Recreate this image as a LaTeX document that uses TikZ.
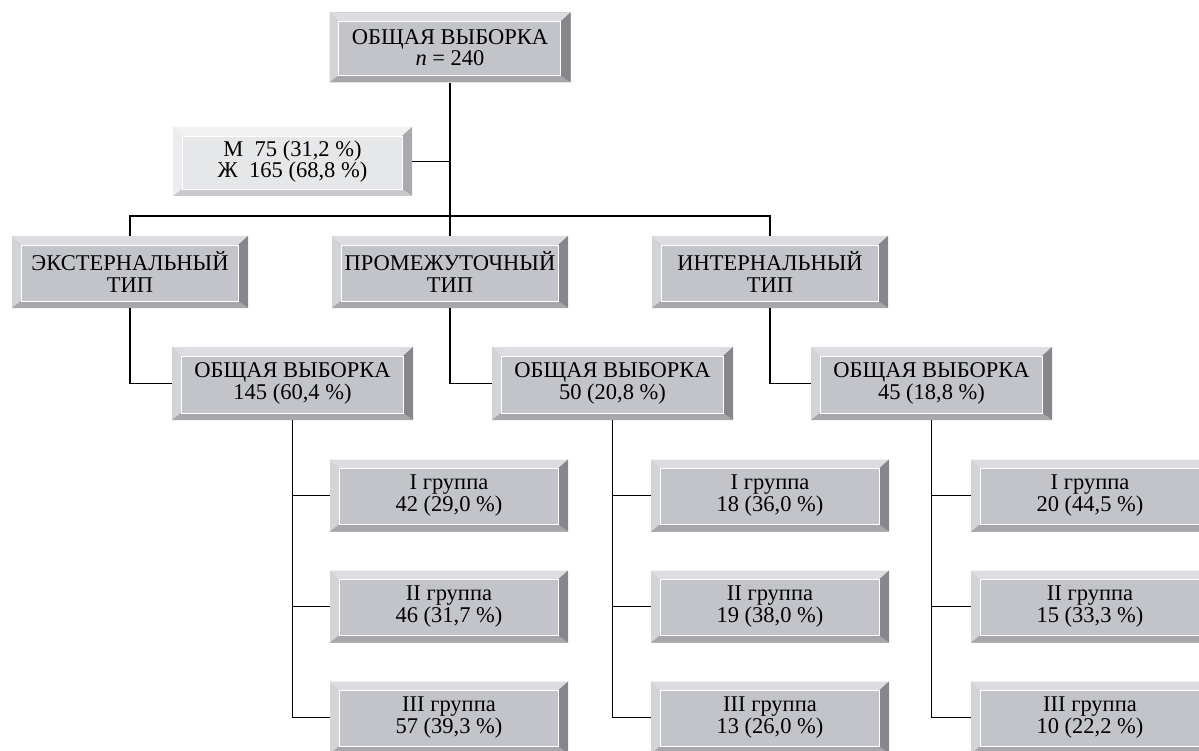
\documentclass[tikz,border=0pt]{standalone}
\usepackage{fontspec}
\setmainfont{Liberation Serif}
\usetikzlibrary{calc}
\definecolor{faceG}{HTML}{C2C4CA}
\definecolor{topG}{HTML}{DCDDE1}
\definecolor{leftG}{HTML}{D2D4D8}
\definecolor{rightG}{HTML}{86878C}
\definecolor{botG}{HTML}{A6A7AB}
\definecolor{faceL}{HTML}{E6E7E9}
\definecolor{topL}{HTML}{F2F2F3}
\definecolor{leftL}{HTML}{ECEDEF}
\definecolor{rightL}{HTML}{A9AAAD}
\definecolor{botL}{HTML}{C8C9CC}
\tikzset{
  bevelbox/.style n args={5}{
    draw=none, fill=#1, inner sep=0pt, align=center,
    font=\fontsize{22.5}{21.5}\selectfont,
    path picture={
      \path (path picture bounding box.north west) coordinate (pNW)
            (path picture bounding box.south east) coordinate (pSE)
            (path picture bounding box.north east) coordinate (pNE)
            (path picture bounding box.south west) coordinate (pSW);
      \fill[#2] (pNW) -- (pNE) -- ($(pNE)+(-10pt,-9pt)$) -- ($(pNW)+(9pt,-9pt)$) -- cycle;
      \fill[#3] (pNW) -- (pSW) -- ($(pSW)+(9pt,7pt)$) -- ($(pNW)+(9pt,-9pt)$) -- cycle;
      \fill[#4] (pNE) -- (pSE) -- ($(pSE)+(-10pt,7pt)$) -- ($(pNE)+(-10pt,-9pt)$) -- cycle;
      \fill[#5] (pSW) -- (pSE) -- ($(pSE)+(-10pt,7pt)$) -- ($(pSW)+(9pt,7pt)$) -- cycle;
      \draw[white, line width=0.7pt] ($(pSW)+(9pt,7pt)$) rectangle ($(pNE)+(-10pt,-9pt)$);
    }},
  gbox/.style={bevelbox={faceG}{topG}{leftG}{rightG}{botG}},
  lbox/.style={bevelbox={faceL}{topL}{leftL}{rightL}{botL}},
  topbox/.style={gbox, minimum width=241pt, minimum height=70pt},
  mfbox/.style={lbox, minimum width=239pt, minimum height=69pt},
  typebox/.style={gbox, minimum width=236pt, minimum height=72pt},
  selbox/.style={gbox, minimum width=241pt, minimum height=73pt},
  grpbox/.style={gbox, minimum width=238pt, minimum height=72pt},
  link/.style={draw=black, line width=1.6pt}
}
\begin{document}
\begin{tikzpicture}[x=1pt,y=-1pt]
\useasboundingbox (0,0) rectangle (1199,751);
\begin{scope}
\clip (0,0) rectangle (1199,751);
% top
\node[topbox] (top) at (450,47.5) {ОБЩАЯ ВЫБОРКА\\\textit{n} = 240};
\node[mfbox] (mf) at (292.5,161.5) {М\ \ 75 (31,2 \%)\\Ж\ \ 165 (68,8 \%)};
% types
\node[typebox] (t1) at (130,272) {ЭКСТЕРНАЛЬНЫЙ\\ТИП};
\node[typebox] (t2) at (450,272) {ПРОМЕЖУТОЧНЫЙ\\ТИП};
\node[typebox] (t3) at (770,272) {ИНТЕРНАЛЬНЫЙ\\ТИП};
% samples
\node[selbox] (s1) at (292.5,383.5) {ОБЩАЯ ВЫБОРКА\\145 (60,4 \%)};
\node[selbox] (s2) at (612.5,383.5) {ОБЩАЯ ВЫБОРКА\\50 (20,8 \%)};
\node[selbox] (s3) at (931.5,383.5) {ОБЩАЯ ВЫБОРКА\\45 (18,8 \%)};
% groups
\node[grpbox] (g11) at (449,495.5) {I группа\\42 (29,0 \%)};
\node[grpbox] (g12) at (449,606.5) {II группа\\46 (31,7 \%)};
\node[grpbox] (g13) at (449,717.5) {III группа\\57 (39,3 \%)};
\node[grpbox] (g21) at (770,495.5) {I группа\\18 (36,0 \%)};
\node[grpbox] (g22) at (770,606.5) {II группа\\19 (38,0 \%)};
\node[grpbox] (g23) at (770,717.5) {III группа\\13 (26,0 \%)};
\node[grpbox] (g31) at (1090,495.5) {I группа\\20 (44,5 \%)};
\node[grpbox] (g32) at (1090,606.5) {II группа\\15 (33,3 \%)};
\node[grpbox] (g33) at (1090,717.5) {III группа\\10 (22,2 \%)};
% connectors
\coordinate (j) at (450,216);
\draw[link] (top.south) -- (j);
\draw[link] (mf.east) -- (mf.east -| top.south);
\draw[link] (t1.north) |- (j) -| (t3.north);
\draw[link] (j) -- (t2.north);
\draw[link] (t1.south) |- (s1.west);
\draw[link] (t2.south) |- (s2.west);
\draw[link] (t3.south) |- (s3.west);
\draw[link] (s1.south) |- (g13.west);
\draw[link] (s1.south |- g11.west) -- (g11.west);
\draw[link] (s1.south |- g12.west) -- (g12.west);
\draw[link] (s2.south) |- (g23.west);
\draw[link] (s2.south |- g21.west) -- (g21.west);
\draw[link] (s2.south |- g22.west) -- (g22.west);
\draw[link] (s3.south) |- (g33.west);
\draw[link] (s3.south |- g31.west) -- (g31.west);
\draw[link] (s3.south |- g32.west) -- (g32.west);
\end{scope}
\end{tikzpicture}
\end{document}
